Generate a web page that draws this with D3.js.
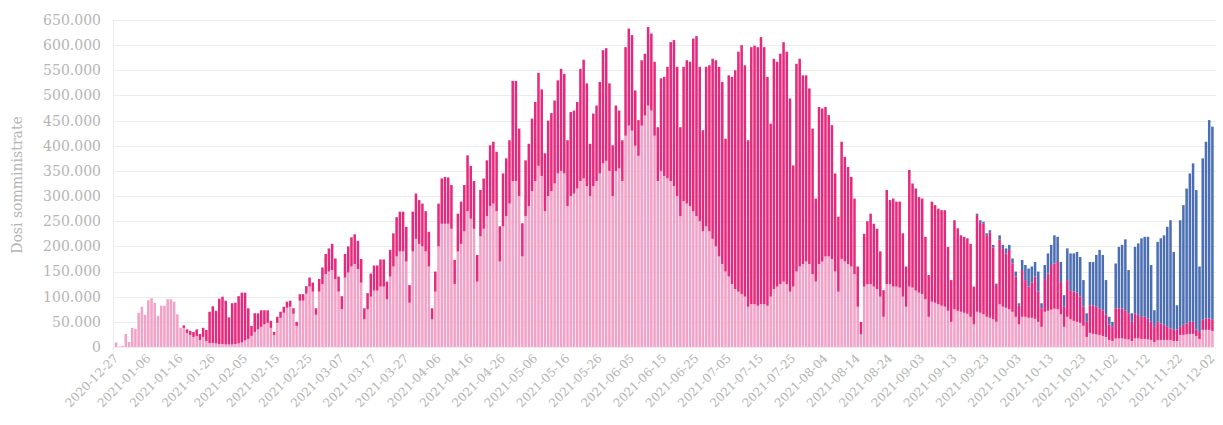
<!DOCTYPE html>
<html>
<head>
<meta charset="utf-8">
<script src="https://cdn.jsdelivr.net/npm/d3@7"></script>
<style>
  body { margin: 0; background: #fff; }
  svg text { font-family: "DejaVu Serif", "Liberation Serif", serif; fill: #b5b5b5; }
</style>
</head>
<body>
<svg id="chart" width="1223" height="425"></svg>
<script>
// daily doses, thousands, one row per week (Sun..Sat), from 2020-12-27 to 2021-12-02
const startDay = '2020-12-27', endDay = '2021-12-02';

const tickLabels = ['2020-12-27', '2021-01-06', '2021-01-16', '2021-01-26', '2021-02-05', '2021-02-15',
    '2021-02-25', '2021-03-07', '2021-03-17', '2021-03-27', '2021-04-06', '2021-04-16', '2021-04-26',
    '2021-05-06', '2021-05-16', '2021-05-26', '2021-06-05', '2021-06-15', '2021-06-25', '2021-07-05',
    '2021-07-15', '2021-07-25', '2021-08-04', '2021-08-14', '2021-08-24', '2021-09-03', '2021-09-13',
    '2021-09-23', '2021-10-03', '2021-10-13', '2021-10-23', '2021-11-02', '2021-11-12', '2021-11-22',
    '2021-12-02'];

const yTicks = [0, 50, 100, 150, 200, 250, 300, 350, 400, 450, 500, 550, 600, 650];

// prima dose (light pink)
const dose1 = [
    9, 1, 2, 26, 10, 38, 36,
    68, 80, 64, 93, 97, 88, 62,
    82, 82, 95, 95, 90, 65, 38,
    38, 28, 24, 20, 22, 14, 20,
    12, 8, 8, 7, 6, 6, 5,
    5, 5, 6, 7, 9, 13, 16,
    22, 30, 35, 40, 45, 48, 38,
    24, 48, 58, 68, 78, 80, 66,
    42, 92, 92, 106, 120, 110, 64,
    110, 125, 145, 150, 153, 135, 110,
    75, 138, 148, 160, 165, 155, 128,
    55, 75, 100, 112, 112, 120, 120,
    95, 140, 160, 180, 190, 190, 170,
    88, 190, 215, 205, 200, 190, 160,
    55, 110, 200, 245, 245, 245, 235,
    125, 190, 205, 230, 270, 255, 235,
    130, 220, 235, 260, 280, 285, 270,
    170, 240, 260, 285, 330, 330, 300,
    180, 260, 280, 310, 330, 360, 340,
    270, 300, 310, 325, 345, 350, 345,
    280, 300, 305, 315, 330, 335, 320,
    300, 320, 330, 345, 365, 370, 350,
    300, 350, 355, 330, 420, 440, 430,
    400, 380, 440, 460, 480, 470, 420,
    330, 350, 340, 335, 330, 320, 300,
    260, 290, 285, 280, 270, 260, 250,
    230, 240, 230, 215, 200, 180, 165,
    150, 140, 125, 115, 110, 105, 100,
    80, 85, 85, 82, 85, 85, 82,
    100, 115, 120, 125, 130, 125, 110,
    120, 150, 160, 165, 170, 165, 145,
    130, 165, 170, 180, 180, 175, 150,
    110, 175, 170, 165, 160, 145, 80,
    25, 120, 125, 125, 120, 115, 100,
    60, 125, 125, 120, 120, 118, 100,
    80, 120, 118, 112, 108, 105, 95,
    60, 90, 88, 85, 82, 80, 72,
    50, 75, 72, 70, 68, 66, 60,
    45, 70, 68, 65, 60, 58, 55,
    50, 85, 80, 78, 75, 70, 60,
    45, 60, 60, 58, 58, 56, 50,
    40, 70, 72, 74, 76, 75, 65,
    40, 60, 55, 52, 50, 48, 42,
    20, 28, 26, 25, 24, 22, 20,
    14, 12, 17, 17, 17, 16, 15,
    12, 17, 17, 16, 16, 15, 14,
    10, 14, 14, 14, 14, 14, 12,
    12, 24, 24, 25, 26, 26, 22,
    16, 34, 34, 34, 32
];

// seconda dose (magenta)
const dose2 = [
    0, 0, 0, 0, 0, 0, 0,
    0, 0, 0, 0, 0, 0, 0,
    0, 0, 0, 0, 0, 0, 0,
    5, 7, 8, 10, 13, 12, 18,
    22, 62, 73, 65, 90, 94, 87,
    54, 82, 82, 94, 99, 95, 61,
    20, 37, 32, 33, 28, 25, 14,
    6, 12, 12, 12, 12, 12, 11,
    8, 13, 13, 15, 18, 18, 13,
    25, 33, 40, 46, 52, 41, 30,
    26, 47, 52, 58, 59, 56, 47,
    22, 32, 46, 50, 50, 54, 54,
    35, 53, 66, 78, 79, 79, 69,
    35, 79, 90, 87, 85, 80, 69,
    22, 40, 85, 90, 93, 92, 87,
    48, 75, 84, 92, 111, 105, 95,
    53, 92, 100, 111, 121, 123, 118,
    70, 105, 115, 126, 199, 199, 134,
    66, 111, 124, 144, 157, 185, 172,
    115, 150, 155, 165, 185, 203, 198,
    131, 167, 165, 172, 223, 236, 204,
    104, 144, 150, 182, 225, 224, 174,
    101, 130, 115, 81, 176, 193, 190,
    110, 71, 130, 123, 156, 153, 147,
    107, 184, 197, 222, 276, 290, 257,
    177, 267, 285, 287, 343, 358, 307,
    201, 317, 330, 358, 370, 377, 362,
    264, 400, 412, 435, 477, 495, 460,
    331, 511, 514, 514, 531, 511, 455,
    344, 458, 447, 458, 476, 462, 384,
    241, 413, 413, 375, 370, 349, 289,
    165, 312, 304, 297, 281, 266, 195,
    149, 233, 208, 193, 178, 150, 80,
    25, 105, 125, 140, 125, 120, 90,
    53, 187, 167, 175, 169, 171, 126,
    80, 232, 207, 203, 190, 190, 124,
    83, 199, 194, 190, 190, 192, 127,
    83, 177, 164, 152, 151, 150, 145,
    75, 192, 180, 180, 161, 169, 143,
    73, 129, 115, 108, 118, 96, 80,
    37, 93, 73, 62, 70, 84, 60,
    37, 65, 74, 89, 90, 94, 64,
    40, 73, 58, 58, 58, 52, 38,
    30, 55, 57, 55, 53, 51, 44,
    31, 28, 60, 60, 60, 57, 52,
    38, 50, 47, 44, 44, 42, 36,
    30, 36, 33, 30, 26, 23, 22,
    23, 16, 20, 22, 24, 24, 13,
    14, 20, 23, 23, 22
];

// dose addizionale / booster (blue), from 2021-09-12 on
const dose3Start = '2021-09-12';
const dose3 = [
    0, 0, 0, 0, 0, 0, 0,
    0, 3, 4, 4, 5, 5, 5,
    3, 8, 8, 10, 10, 10, 10,
    5, 20, 30, 36, 32, 29, 40,
    10, 28, 40, 40, 56, 50, 40,
    23, 63, 73, 76, 81, 79, 53,
    17, 86, 86, 103, 116, 110, 69,
    15, 10, 89, 122, 126, 141, 86,
    17, 132, 142, 156, 159, 162, 113,
    33, 159, 169, 178, 199, 215, 155,
    48, 212, 238, 268, 295, 315, 277,
    130, 321, 351, 394, 384
];

const colors = {d1: '#f2a1c7', d2: '#e5297d', d3: '#4b6fb2'};

d3.select(window).on('load', init);

function init() {
    let svg = d3.select('#chart'),
        margin = {top: 20, right: 7, bottom: 78, left: 113},
        width = +svg.attr('width') - margin.left - margin.right,
        height = +svg.attr('height') - margin.top - margin.bottom;

    let parse = d3.utcParse('%Y-%m-%d'),
        fmt = d3.utcFormat('%Y-%m-%d');

    let days = d3.utcDay.range(parse(startDay), d3.utcDay.offset(parse(endDay), 1)).map(fmt);
    let offset3 = days.indexOf(dose3Start);

    let data = days.map((d, i) => ({
        day: d,
        d1: dose1[i],
        d2: dose2[i],
        d3: i >= offset3 ? dose3[i - offset3] : 0
    }));

    let x = d3.scaleBand().domain(days).range([1.5, width - 2]).paddingInner(0.22).paddingOuter(0.1),
        y = d3.scaleLinear().domain([0, 650]).range([height, 0]);

    let it = d3.formatLocale({decimal: ',', thousands: '.', grouping: [3], currency: ['€', '']});
    let fmtY = it.format(',');

    let g = svg.append('g')
        .attr('transform', 'translate(' + margin.left + ',' + margin.top + ')');

    // grid
    g.append('g')
        .selectAll('line')
        .data(yTicks)
        .enter()
        .append('line')
        .attr('x1', 0)
        .attr('x2', width)
        .attr('y1', d => Math.round(y(d)) + 0.5)
        .attr('y2', d => Math.round(y(d)) + 0.5)
        .attr('stroke', '#ececec');

    g.append('line')
        .attr('x1', 0.5).attr('x2', 0.5)
        .attr('y1', 0).attr('y2', height + 6)
        .attr('stroke', '#ececec');

    // y axis
    g.append('g')
        .attr('class', 'axis axis--y')
        .selectAll('text')
        .data(yTicks)
        .enter()
        .append('text')
        .attr('x', -12)
        .attr('y', d => y(d))
        .attr('dy', '0.35em')
        .attr('text-anchor', 'end')
        .style('font-size', '14px')
        .text(d => fmtY(d * 1000));

    svg.append('text')
        .attr('transform', 'translate(22,' + (margin.top + 165) + ') rotate(-90)')
        .attr('text-anchor', 'middle')
        .style('font-size', '14px')
        .text('Dosi somministrate');

    // stacked bars
    let stack = d3.stack().keys(['d1', 'd2', 'd3'])(data);

    g.selectAll('.layer')
        .data(stack)
        .enter()
        .append('g')
        .attr('class', 'layer')
        .attr('fill', d => colors[d.key])
        .selectAll('rect')
        .data(d => d)
        .enter()
        .append('rect')
        .attr('x', d => x(d.data.day))
        .attr('width', x.bandwidth())
        .attr('y', d => y(d[1]))
        .attr('height', d => Math.max(0, y(d[0]) - y(d[1])));

    // x axis labels
    g.append('g')
        .attr('class', 'axis axis--x')
        .selectAll('text')
        .data(tickLabels)
        .enter()
        .append('text')
        .attr('transform', d => 'translate(' + (x(d) + x.bandwidth() / 2 + 3) + ',' + (height + 12) + ') rotate(-45)')
        .attr('text-anchor', 'end')
        .style('font-size', '12px')
        .text(d => d);
}
</script>
</body>
</html>
